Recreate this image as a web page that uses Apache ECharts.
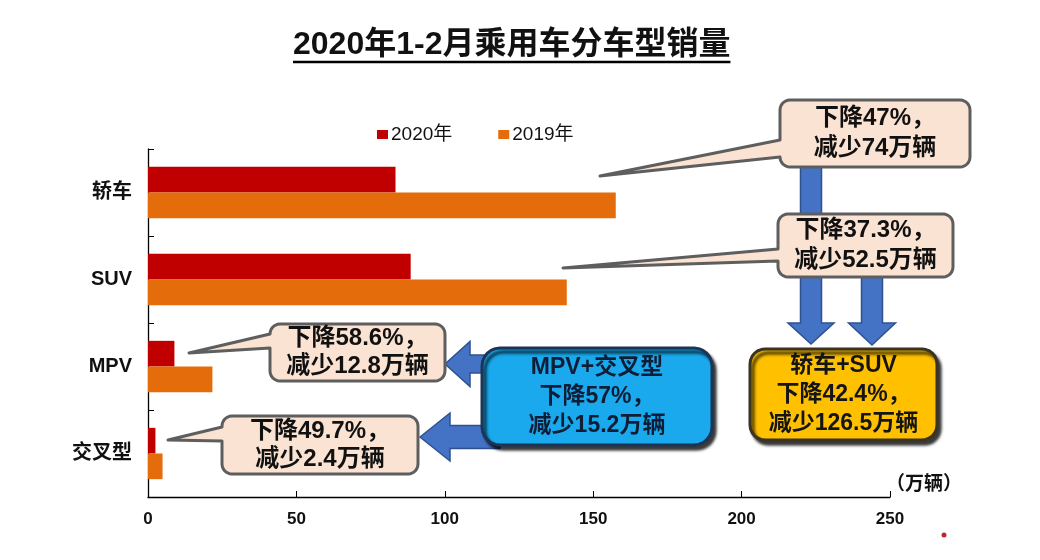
<!DOCTYPE html>
<html>
<head>
<meta charset="utf-8">
<script src="https://cdn.jsdelivr.net/npm/echarts@6/dist/echarts.min.js"></script>
<style>
html,body{margin:0;padding:0;background:#fff;}
#chart{width:1040px;height:560px;}
</style>
</head>
<body>
<div id="chart"></div>
<script>
// ---- data ----
const titleText = '2020年1-2月乘用车分车型销量';
const categories = ['轿车', 'SUV', 'MPV', '交叉型'];
const seriesNames = ['2020年', '2019年'];
const sales2020 = [83.4, 88.5, 8.9, 2.5];
const sales2019 = [157.6, 141.1, 21.7, 4.9];
const xMin = 0, xMax = 250, xStep = 50;
const unitLabel = '（万辆）';
const noteSedan = ['下降47%，', '减少74万辆'];
const noteSuv = ['下降37.3%，', '减少52.5万辆'];
const noteMpv = ['下降58.6%，', '减少12.8万辆'];
const noteCross = ['下降49.7%，', '减少2.4万辆'];
const noteMpvCross = ['MPV+交叉型', '下降57%，', '减少15.2万辆'];
const noteSedanSuv = ['轿车+SUV', '下降42.4%，', '减少126.5万辆'];

// ---- styling helpers ----
const FF = "'Liberation Sans','Noto Sans CJK SC',sans-serif";
const RED = '#C00000', ORANGE = '#E46C0A';
const PEACH = '#FBE3D3', GRAYB = '#5E5E5E';
const BLUEARROW = '#4472C4', BLUEARROW_B = '#2F528F';
const TITLE_FS = 32, TITLE_LEFT = 293;

function measure(text, font) {
  const c = document.createElement('canvas').getContext('2d');
  c.font = font;
  return c.measureText(text).width;
}

function roundRectPts(x, y, w, h, r, ptr) {
  const pts = [];
  const arc = (cx, cy, a0, a1) => {
    const n = 6;
    for (let i = 0; i <= n; i++) {
      const a = (a0 + (a1 - a0) * i / n) * Math.PI / 180;
      pts.push([cx + r * Math.cos(a), cy + r * Math.sin(a)]);
    }
  };
  arc(x + r, y + r, 180, 270);
  arc(x + w - r, y + r, 270, 360);
  arc(x + w - r, y + h - r, 0, 90);
  arc(x + r, y + h - r, 90, 180);
  if (ptr) {
    pts.push([x, ptr.b2]);
    pts.push(ptr.tip);
    pts.push([x, ptr.b1]);
  }
  return pts;
}

function callout(box, ptr, lines, opts) {
  opts = opts || {};
  const els = [];
  els.push({
    type: 'polygon',
    shape: { points: roundRectPts(box[0], box[1], box[2], box[3], opts.r || 10, ptr) },
    style: Object.assign({
      fill: opts.fill || PEACH,
      stroke: opts.stroke || GRAYB,
      lineWidth: opts.lw || 3,
      lineJoin: 'round'
    }, opts.shadow ? { shadowBlur: 3, shadowOffsetX: 3, shadowOffsetY: 4, shadowColor: 'rgba(0,0,0,0.75)' } : {}),
    z: opts.z || 10
  });
  const lh = opts.lh || 30;
  const cy = box[1] + box[3] / 2 + (opts.dy || 0);
  els.push({
    type: 'text',
    x: box[0] + box[2] / 2 + (opts.dx || 0),
    y: cy,
    style: {
      text: lines.join('\n'),
      fill: opts.color || '#111',
      font: 'bold ' + (opts.fs || 24) + 'px ' + FF,
      align: 'center', textAlign: 'center',
      verticalAlign: 'middle', textVerticalAlign: 'middle',
      lineHeight: lh
    },
    z: (opts.z || 10) + 1
  });
  return els;
}

function downArrow(cx, y0, tipY, shaftW, headW, headH) {
  const s = shaftW / 2, hw = headW / 2, hb = tipY - headH;
  return {
    type: 'polygon',
    shape: { points: [[cx - s, y0], [cx + s, y0], [cx + s, hb], [cx + hw, hb], [cx, tipY], [cx - hw, hb], [cx - s, hb]] },
    style: { fill: BLUEARROW, stroke: BLUEARROW_B, lineWidth: 1.5 },
    z: 5
  };
}
function leftArrow(tipX, cy, x1, shaftH, headH, headW) {
  const s = shaftH / 2, hh = headH / 2, hb = tipX + headW;
  return {
    type: 'polygon',
    shape: { points: [[tipX, cy], [hb, cy - hh], [hb, cy - s], [x1, cy - s], [x1, cy + s], [hb, cy + s], [hb, cy + hh]] },
    style: { fill: BLUEARROW, stroke: BLUEARROW_B, lineWidth: 1.5 },
    z: 5
  };
}

const chart = echarts.init(document.getElementById('chart'), null, { renderer: 'canvas' });

const titleW = measure(titleText, 'bold ' + TITLE_FS + 'px ' + FF);

const graphics = [].concat(
  // title underline
  [{ type: 'line', shape: { x1: TITLE_LEFT, y1: 62, x2: TITLE_LEFT + titleW, y2: 62 }, style: { stroke: '#000', lineWidth: 2.5 }, z: 10 }],
  // arrows (behind boxes)
  [downArrow(811, 165, 344, 21, 46, 21)],
  [downArrow(872, 275, 345, 21, 47, 22)],
  [leftArrow(445, 364, 490, 18, 45, 25)],
  [leftArrow(420, 437, 500, 23, 48, 30)],
  callout([780, 100, 190, 67], { b1: 140, b2: 157, tip: [600, 176] }, noteSedan, {}),
  callout([778, 214, 175, 63], { b1: 249, b2: 261, tip: [563, 268] }, noteSuv, {}),
  callout([270, 324, 175, 57], { b1: 334, b2: 348, tip: [189, 353] }, noteMpv, { lh: 28 }),
  callout([222, 416, 196, 58], { b1: 427, b2: 441, tip: [168, 440] }, noteCross, { lh: 28 }),
  callout([482, 348, 230, 97], null, noteMpvCross, { fill: '#19A9EC', stroke: '#1B3557', r: 18, shadow: true, fs: 23, lh: 29, color: '#0F1E36', z: 12 }),
  callout([750, 349, 187, 91], null, noteSedanSuv, { fill: '#FFC000', stroke: '#3A3320', r: 15, shadow: true, fs: 23, lh: 29, color: '#151515', z: 12 }),
  [{
    type: 'text', x: 886, y: 485,
    style: { text: unitLabel, font: 'bold 19px ' + FF, fill: '#111', align: 'left', textAlign: 'left', verticalAlign: 'middle', textVerticalAlign: 'middle' },
    z: 10
  }],
  [{ type: 'circle', shape: { cx: 944, cy: 535, r: 2.5 }, style: { fill: '#C0272D' }, z: 10 }]
);

const option = {
  backgroundColor: '#ffffff',
  animation: false,
  title: {
    text: titleText,
    left: TITLE_LEFT,
    top: 29,
    padding: 0,
    textStyle: { fontFamily: FF, fontWeight: 'bold', fontSize: TITLE_FS, color: '#111' }
  },
  legend: {
    data: seriesNames,
    left: 372,
    top: 120,
    icon: 'rect',
    itemWidth: 11,
    itemHeight: 9,
    itemGap: 46,
    textStyle: { fontFamily: FF, fontSize: 19, color: '#111', padding: [0, 0, 0, -2] }
  },
  grid: { left: 148, right: 150, top: 149, bottom: 63, containLabel: false },
  xAxis: {
    type: 'value',
    min: xMin, max: xMax, interval: xStep,
    splitLine: { show: false },
    axisLine: { show: true, lineStyle: { color: '#000', width: 1.3 } },
    axisTick: { show: true, inside: true, length: 6, lineStyle: { color: '#000' } },
    axisLabel: { fontFamily: FF, fontWeight: 'bold', fontSize: 17, color: '#111', margin: 14 }
  },
  yAxis: {
    type: 'category',
    inverse: true,
    data: categories,
    axisLine: { show: true, lineStyle: { color: '#000', width: 1.3 } },
    axisTick: { show: true, inside: true, length: 6, lineStyle: { color: '#000' } },
    axisLabel: { fontFamily: FF, fontWeight: 'bold', fontSize: 20, color: '#111', margin: 16 }
  },
  series: [
    { name: seriesNames[0], type: 'bar', data: sales2020, itemStyle: { color: RED }, barGap: '0%', barCategoryGap: '41%' },
    { name: seriesNames[1], type: 'bar', data: sales2019, itemStyle: { color: ORANGE }, barGap: '0%', barCategoryGap: '41%' }
  ],
  graphic: { elements: graphics }
};
chart.setOption(option);
</script>
</body>
</html>
